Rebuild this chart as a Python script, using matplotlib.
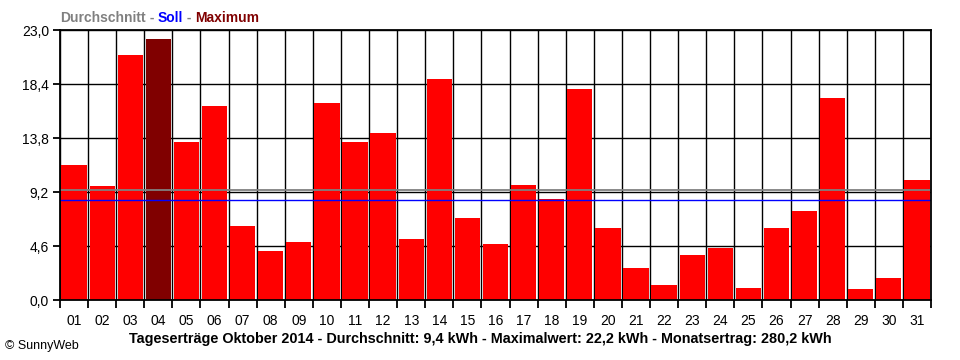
import matplotlib
matplotlib.use('Agg')
import matplotlib.pyplot as plt
import numpy as np

plt.rcParams['font.family'] = ['Liberation Sans', 'DejaVu Sans']

days = ['%02d' % d for d in range(1, 32)]
ertrag = [11.5, 9.7, 20.9, 22.2, 13.5, 16.5, 6.3, 4.2, 4.9, 16.8,
          13.5, 14.2, 5.2, 18.8, 7.0, 4.8, 9.8, 8.6, 18.0, 6.1,
          2.7, 1.3, 3.8, 4.4, 1.0, 6.1, 7.6, 17.2, 0.9, 1.9, 10.2]
durchschnitt = 9.4
soll = 8.5
yticks = [0.0, 4.6, 9.2, 13.8, 18.4, 23.0]
caption = 'Tageserträge Oktober 2014 - Durchschnitt: 9,4 kWh - Maximalwert: 22,2 kWh - Monatsertrag: 280,2 kWh'

fig = plt.figure(figsize=(9.6, 3.6), dpi=100)
ax = fig.add_axes([60/960, 1-300/360, 871/960, 270/360])

x = np.arange(len(days))
imax = int(np.argmax(ertrag))
farben = ['#800000' if i == imax else '#ff0000' for i in x]
ax.bar(x, ertrag, width=0.9, color=farben, zorder=2)

ax.axhline(durchschnitt, color='#808080', lw=1.3, zorder=3)
ax.axhline(soll, color='#0000ff', lw=1.0, zorder=3)

ax.set_xlim(-0.5, len(days) - 0.5)
ax.set_ylim(0, 23)

# Gitter
for b in np.arange(-0.5, len(days), 1.0):
    ax.axvline(b, color='black', lw=1, zorder=1)
for t in yticks:
    ax.axhline(t, color='black', lw=1, zorder=1)

ax.set_yticks(yticks)
ax.set_yticklabels([('%.1f' % t).replace('.', ',') for t in yticks], fontsize=10)
ax.set_xticks(x)
ax.set_xticklabels(days, fontsize=10)
ax.set_xticks(np.arange(-0.5, len(days), 1.0), minor=True)
ax.tick_params(axis='x', which='major', length=0, pad=10)
ax.tick_params(axis='x', which='minor', length=6, width=1.3, color='black')
ax.tick_params(axis='y', length=5, width=1.3, pad=3)
for s in ax.spines.values():
    s.set_linewidth(1.3)
    s.set_zorder(4)

# Legende oben
fig.canvas.draw()
r = fig.canvas.get_renderer()
xpos = 60
for txt, c in [('Durchschnitt', '#808080'), (' - ', '#808080'), ('Soll', '#0000ff'),
               (' - ', '#808080'), ('Maximum', '#800000')]:
    t = fig.text(xpos/960, 1-18/360, txt, color=c, fontsize=10, fontweight='bold', va='center')
    bb = t.get_window_extent(renderer=r)
    xpos += bb.width

fig.text(480/960, 1-339/360, caption, ha='center', va='center', fontsize=10.4, fontweight='bold')
fig.text(5/960, 1-346/360, '© SunnyWeb', ha='left', va='center', fontsize=9)

fig.savefig('out.png', dpi=100)
